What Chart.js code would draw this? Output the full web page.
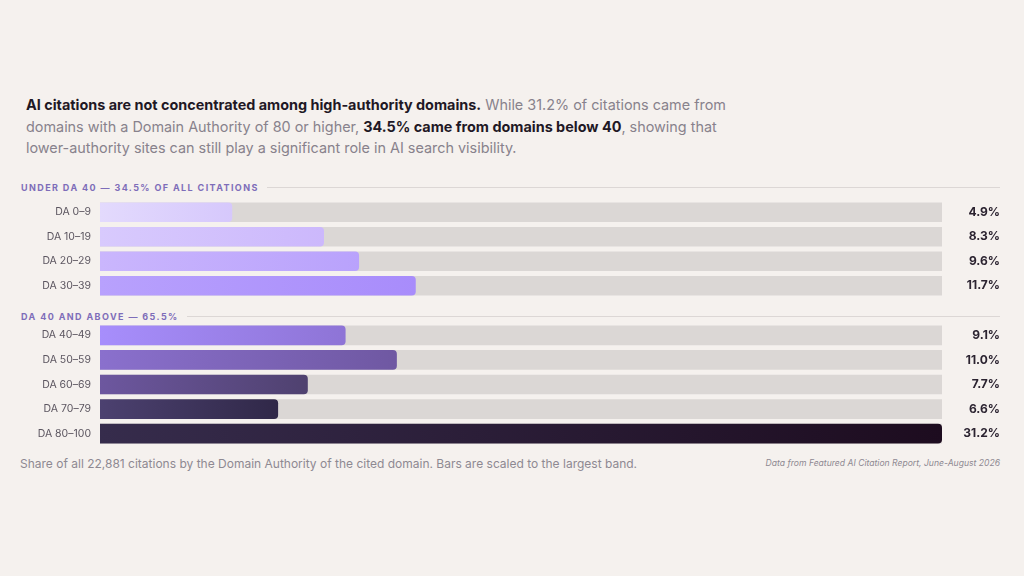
<!DOCTYPE html>
<html>
<head>
<meta charset="utf-8">
<script src="https://cdn.jsdelivr.net/npm/chart.js@4"></script>
<style>
  html, body { margin: 0; padding: 0; }
  body { width: 1024px; height: 576px; background: #f5f1ee; position: relative; overflow: hidden; font-family: Inter, "Noto Sans", sans-serif; }
  .intro { position: absolute; left: 26px; top: 94px; width: 800px; font-size: 14.4px; line-height: 21.5px; color: #88828c; white-space: nowrap; }
  .intro b { color: #1f1825; font-weight: 700; }
  .section { position: absolute; left: 21px; right: 24px; height: 14px; display: flex; align-items: center; font-size: 9px; font-weight: 700; letter-spacing: 1.4px; color: #7e6db9; }
  .section span { white-space: nowrap; }
  .section i { flex: 1; height: 1px; background: #dcd7d5; margin-left: 8px; }
  .box { position: absolute; left: 20px; width: 980px; }
  .note { position: absolute; left: 20px; top: 456px; font-size: 12px; color: #8e8992; }
  .source { position: absolute; right: 24px; top: 458px; font-size: 8.6px; font-style: italic; color: #8e8992; }
</style>
</head>
<body>
<div class="intro"><b>AI citations are not concentrated among high-authority domains.</b> While 31.2% of citations came from<br>domains with a Domain Authority of 80 or higher, <b>34.5% came from domains below 40</b>, showing that<br>lower-authority sites can still play a significant role in AI search visibility.</div>

<div class="section" style="top:180px"><span>UNDER DA 40 — 34.5% OF ALL CITATIONS</span><i></i></div>
<div class="box" style="top:200px;height:98px"><canvas id="low-chart"></canvas></div>

<div class="section" style="top:309px"><span>DA 40 AND ABOVE — 65.5%</span><i></i></div>
<div class="box" style="top:323px;height:123px"><canvas id="high-chart"></canvas></div>

<div class="note">Share of all 22,881 citations by the Domain Authority of the cited domain. Bars are scaled to the largest band.</div>
<div class="source">Data from Featured AI Citation Report, June-August 2026</div>

<script>
const lowBands = ['DA 0–9', 'DA 10–19', 'DA 20–29', 'DA 30–39'];
const lowShare = [4.9, 8.3, 9.6, 11.7];

const highBands = ['DA 40–49', 'DA 50–59', 'DA 60–69', 'DA 70–79', 'DA 80–100'];
const highShare = [9.1, 11.0, 7.7, 6.6, 31.2];

// bars are scaled to the largest band
const largest = Math.max(...lowShare, ...highShare);

// gradient start / end per bar
const lowColors = [
	['#e3dafd', '#d6c8fc'],
	['#d8cafd', '#ccb8fc'],
	['#cab6fd', '#b9a2fc'],
	['#b8a1fd', '#a88cfb']
];
const highColors = [
	['#a78efc', '#8e74d6'],
	['#8a70cd', '#6f58a2'],
	['#6d579f', '#4f416f'],
	['#4c4170', '#302848'],
	['#362c4c', '#1d0c1f']
];

function gradientFill(colors) {
	return function (ctx) {
		const chart = ctx.chart;
		const stops = colors[ctx.dataIndex] || colors[0];
		if (ctx.type !== 'data' || !chart.chartArea) return stops[0];
		const x = chart.scales.x;
		const x0 = x.getPixelForValue(0);
		const x1 = x.getPixelForValue(ctx.raw);
		const g = chart.ctx.createLinearGradient(x0, 0, Math.max(x1, x0 + 1), 0);
		g.addColorStop(0, stops[0]);
		g.addColorStop(1, stops[1]);
		return g;
	};
}

// fixed width, and no extra vertical room for the end labels
function fixAxis(width) {
	return (scale) => {
		scale.width = width;
		scale.paddingTop = 0;
		scale.paddingBottom = 0;
	};
}

function makeChart(el, labels, values, colors) {
	return new Chart(el, {
		type: 'bar',
		data: {
			labels: labels,
			datasets: [{
				data: values,
				backgroundColor: gradientFill(colors),
				borderRadius: 4,
				grouped: false,
				order: 1,
				yAxisID: 'y'
			}, {
				data: labels.map(() => largest),
				backgroundColor: '#dbd7d5',
				borderRadius: 0,
				grouped: false,
				order: 2,
				yAxisID: 'y'
			}]
		},
		options: {
			indexAxis: 'y',
			responsive: true,
			maintainAspectRatio: false,
			animation: false,
			events: [],
			layout: { padding: 0 },
			datasets: { bar: { barPercentage: 0.8, categoryPercentage: 1 } },
			plugins: { legend: { display: false }, tooltip: { enabled: false } },
			scales: {
				x: { display: false, min: 0, max: largest },
				y: {
					position: 'left',
					grid: { display: false, drawTicks: false },
					border: { display: false },
					ticks: { color: '#5c5660', font: { family: 'Inter', size: 10.5 }, padding: 9 },
					afterFit: fixAxis(80)
				},
				values: {
					axis: 'y',
					type: 'category',
					labels: values.map(v => v.toFixed(1) + '%'),
					position: 'right',
					offset: true,
					grid: { display: false, drawTicks: false },
					border: { display: false },
					ticks: { color: '#2b2330', crossAlign: 'far', padding: 0, font: { family: 'Inter', size: 12, weight: 'bold' } },
					afterFit: fixAxis(58)
				}
			}
		}
	});
}

const lowChartInstance = makeChart(document.getElementById('low-chart'), lowBands, lowShare, lowColors);
const highChartInstance = makeChart(document.getElementById('high-chart'), highBands, highShare, highColors);
</script>
</body>
</html>
